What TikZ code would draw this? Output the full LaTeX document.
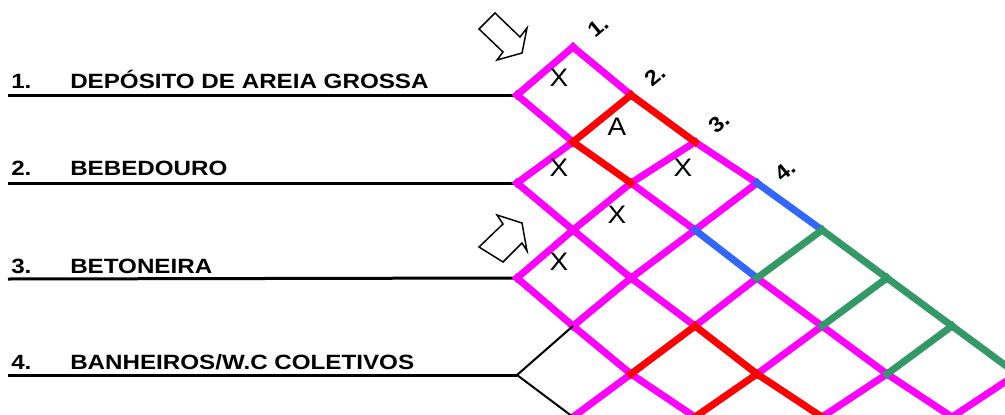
\documentclass[tikz,border=0pt]{standalone}
\usepackage{fontspec}
\setmainfont{Liberation Sans}[FakeStretch=1.1]
\newfontfamily\rotulo{Liberation Sans}[FakeStretch=1.17]
\usepackage{tikz}
\usepackage{xcolor}
\definecolor{rosa}{RGB}{255,0,255}
\definecolor{vermelho}{RGB}{255,0,0}
\definecolor{azul}{RGB}{51,102,255}
\definecolor{verde}{RGB}{51,153,102}

\begin{document}
\begin{tikzpicture}[x=0.75pt,y=-0.75pt]
	
	\useasboundingbox (0,0) rectangle (1005,414);
	\clip (0,0) rectangle (1005,414);
	
	\tikzstyle{every node}=[inner sep=0pt]
	\tikzstyle{grade}=[line width=5.25pt, line cap=rect]
	\tikzstyle{linha}=[line width=2.25pt]
	\tikzstyle{item}=[anchor=base west, font=\rotulo\fontsize{15.5}{17}\selectfont\bfseries]
	\tikzstyle{topo}=[rotate=40, font=\fontsize{16}{17}\selectfont\bfseries]
	\tikzstyle{marca}=[font=\fontsize{19}{20}\selectfont]
	\tikzstyle{seta}=[line width=1.1pt, fill=white, line join=miter]
	
	% vertices of the grid
	\coordinate (p10) at (573,47);
	\coordinate (p01) at (517,95);
	\coordinate (p21) at (631,95);
	\coordinate (p12) at (573,142);
	\coordinate (p32) at (695,142);
	\coordinate (p03) at (517,183);
	\coordinate (p23) at (631,183);
	\coordinate (p43) at (757,183);
	\coordinate (p14) at (573,230);
	\coordinate (p34) at (695,230);
	\coordinate (p54) at (822,230);
	\coordinate (p05) at (517,278);
	\coordinate (p25) at (631,278);
	\coordinate (p45) at (757,278);
	\coordinate (p65) at (887,278);
	\coordinate (p16) at (573,326);
	\coordinate (p36) at (695,326);
	\coordinate (p56) at (822,326);
	\coordinate (p76) at (952,326);
	\coordinate (p07) at (517,375);
	\coordinate (p27) at (631,374);
	\coordinate (p47) at (757,374);
	\coordinate (p67) at (887,374);
	\coordinate (p87) at (1017,374);
	\coordinate (p18) at (573,417);
	\coordinate (p38) at (695,417);
	\coordinate (p58) at (822,417);
	\coordinate (p78) at (952,417);
	
	% start of the underlines
	\coordinate (s1) at (8,95);
	\coordinate (s2) at (8,183);
	\coordinate (s3) at (8,279);
	\coordinate (s4) at (8,375);
	
	% items
	\node[item] (n1) at (11,88) {1.};
	\node[item] (t1) at (70,88) {DEPÓSITO DE AREIA GROSSA};
	\node[item] (n2) at (11,175) {2.};
	\node[item] (t2) at (70,175) {BEBEDOURO};
	\node[item] (n3) at (11,273) {3.};
	\node[item] (t3) at (70,273) {BETONEIRA};
	\node[item] (n4) at (11,369) {4.};
	\node[item] (t4) at (70,369) {BANHEIROS/W.C COLETIVOS};
	
	\draw[linha] (s1) -- (p01);
	\draw[linha] (s2) -- (p03);
	\draw[linha] (s3) -- (p05);
	\draw[linha] (s4) -- (p07);
	
	% headers
	\node[topo] (h1) at (598,27) {1.};
	\node[topo] (h2) at (655,76) {2.};
	\node[topo] (h3) at (719,123) {3.};
	\node[topo] (h4) at (785,171) {4.};
	
	% grid
	\draw[grade, rosa] (p01) -- (p10);
	\draw[grade, rosa] (p10) -- (p21);
	\draw[grade, rosa] (p01) -- (p12);
	\draw[grade, rosa] (p23) -- (p32);
	\draw[grade, rosa] (p32) -- (p43);
	\draw[grade, rosa] (p03) -- (p12);
	\draw[grade, rosa] (p03) -- (p14);
	\draw[grade, rosa] (p14) -- (p23);
	\draw[grade, rosa] (p23) -- (p34);
	\draw[grade, rosa] (p34) -- (p43);
	\draw[grade, rosa] (p14) -- (p25);
	\draw[grade, rosa] (p25) -- (p34);
	\draw[grade, rosa] (p05) -- (p14);
	\draw[grade, rosa] (p05) -- (p16);
	\draw[grade, rosa] (p16) -- (p25);
	\draw[grade, rosa] (p25) -- (p36);
	\draw[grade, rosa] (p36) -- (p45);
	\draw[grade, rosa] (p45) -- (p56);
	\draw[grade, rosa] (p16) -- (p27);
	\draw[grade, rosa] (p27) -- (p38);
	\draw[grade, rosa] (p18) -- (p27);
	\draw[grade, rosa] (p47) -- (p56);
	\draw[grade, rosa] (p56) -- (p67);
	\draw[grade, rosa] (p58) -- (p67);
	\draw[grade, rosa] (p67) -- (p78);
	\draw[grade, rosa] (p78) -- (p87);
	
	\draw[grade, vermelho] (p12) -- (p21);
	\draw[grade, vermelho] (p21) -- (p32);
	\draw[grade, vermelho] (p12) -- (p23);
	\draw[grade, vermelho] (p27) -- (p36);
	\draw[grade, vermelho] (p36) -- (p47);
	\draw[grade, vermelho] (p47) -- (p38);
	\draw[grade, vermelho] (p47) -- (p58);
	
	\draw[grade, azul] (p43) -- (p54);
	\draw[grade, azul] (p34) -- (p45);
	
	\draw[grade, verde] (p45) -- (p54);
	\draw[grade, verde] (p54) -- (p65);
	\draw[grade, verde] (p56) -- (p65);
	\draw[grade, verde] (p65) -- (p76);
	\draw[grade, verde] (p67) -- (p76);
	\draw[grade, verde] (p76) -- (p87);
	
	\draw[line width=1.5pt] (p07) -- (p16);
	\draw[line width=1.5pt] (p07) -- (p18);
	
	% marks in the cells
	\node[marca] (m1) at (559,78) {X};
	\node[marca] (m2) at (617,127) {A};
	\node[marca] (m3) at (559,168) {X};
	\node[marca] (m4) at (683,168) {X};
	\node[marca] (m5) at (617,215) {X};
	\node[marca] (m6) at (559,262) {X};
	
	% arrows
	\draw[seta] (495,13) -- (520,37) -- (527,28) -- (522,53) -- (497,60) -- (503,52) -- (479,29) -- cycle;
	\draw[seta] (479,247) -- (503,224) -- (497,215) -- (522,223) -- (527,251) -- (522,243) -- (503,262) -- cycle;
	
\end{tikzpicture}
\end{document}
